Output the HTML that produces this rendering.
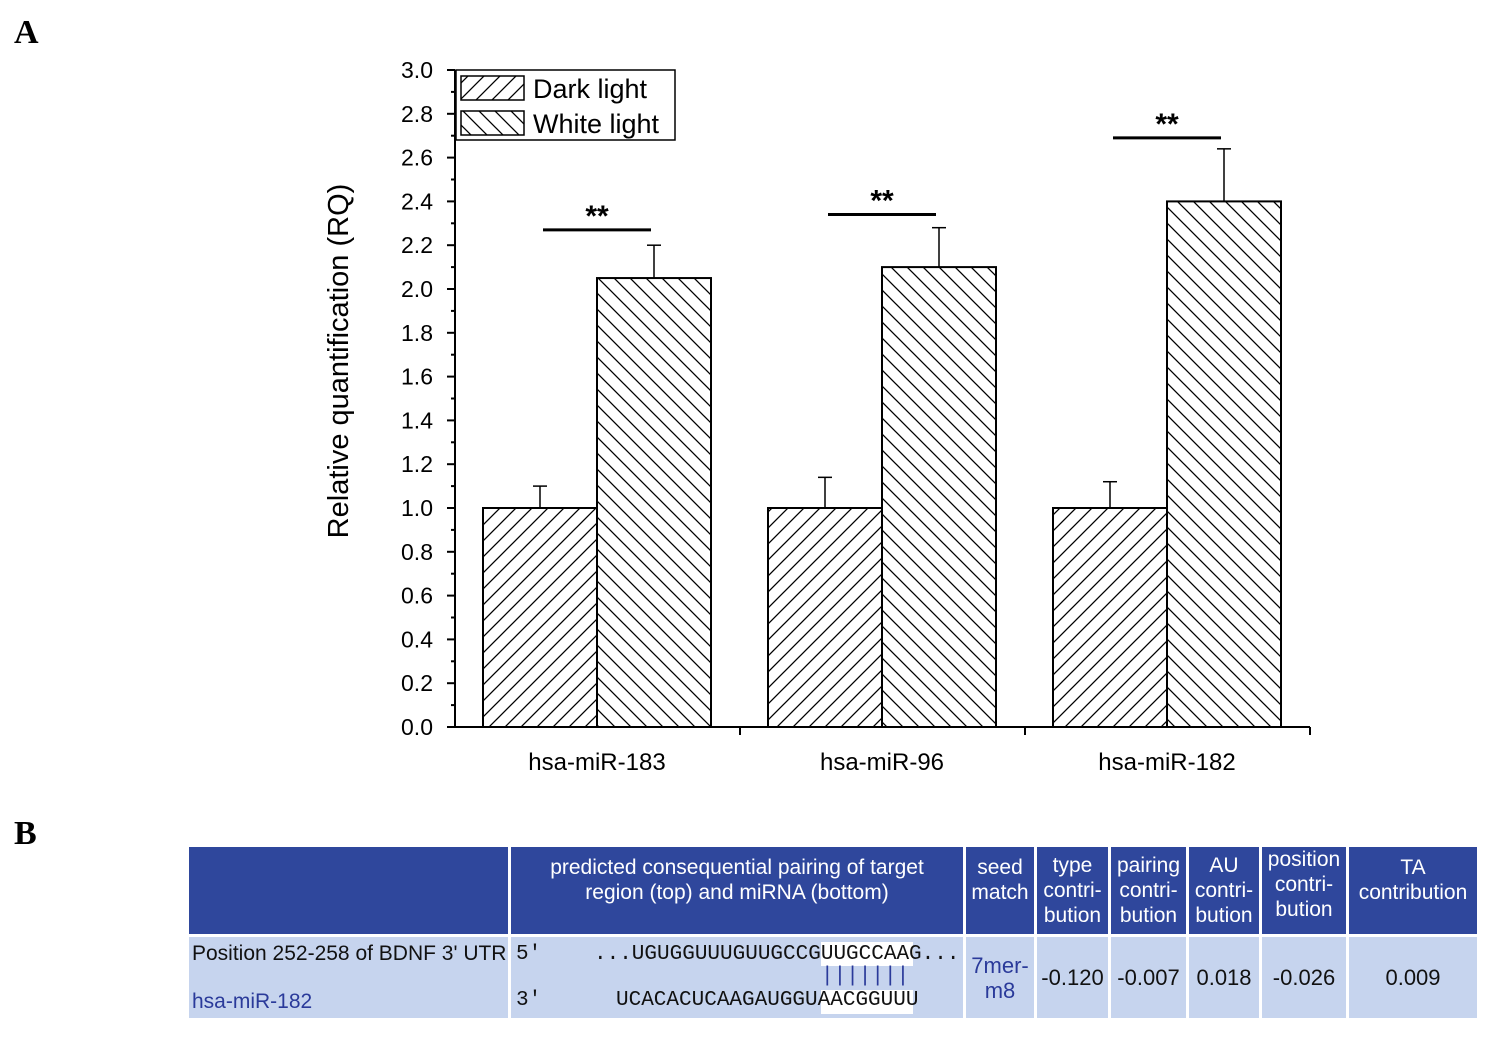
<!DOCTYPE html>
<html><head><meta charset="utf-8">
<style>
body{margin:0;width:1495px;height:1039px;background:#fff;position:relative;overflow:hidden;font-family:"Liberation Sans",sans-serif}
.lbl{position:absolute;font-family:"Liberation Serif",serif;font-weight:bold;font-size:34px}
.c{position:absolute;box-sizing:border-box;display:flex;align-items:center;justify-content:center;text-align:center;line-height:25px}
.h{background:#2f479c;color:#fff;font-size:21px}
.b{background:#c6d4ee;color:#111;font-size:22px}
.mono{font-family:"Liberation Mono",monospace;font-size:21px;position:absolute;white-space:pre;color:#111}
</style></head><body>
<div class="lbl" style="left:14px;top:14px">A</div>
<div class="lbl" style="left:14px;top:815px">B</div>
<svg id="chart" width="1495" height="800" style="position:absolute;left:0;top:0">
<defs>
<pattern id="pd" patternUnits="userSpaceOnUse" width="16" height="16"><path d="M-4,4 L4,-4 M0,16 L16,0 M12,20 L20,12" stroke="#000" stroke-width="1.3"/></pattern>
<pattern id="pw" patternUnits="userSpaceOnUse" width="16" height="16"><path d="M-4,12 L4,20 M0,0 L16,16 M12,-4 L20,4" stroke="#000" stroke-width="1.3"/></pattern>
</defs>
</svg>
<script>
const categories=["hsa-miR-183","hsa-miR-96","hsa-miR-182"];
const darkValues=[1.0,1.0,1.0];
const darkErrors=[0.1,0.14,0.12];
const whiteValues=[2.05,2.1,2.4];
const whiteErrors=[0.15,0.18,0.24];
const sigY=[2.27,2.34,2.69];
const yTicks=[0,0.2,0.4,0.6,0.8,1.0,1.2,1.4,1.6,1.8,2.0,2.2,2.4,2.6,2.8,3.0];
const NS="http://www.w3.org/2000/svg";
const svg=document.getElementById('chart');
const y=v=>727-v*219;
const xc=i=>597+i*285;
const BW=114;
function mk(t,a,txt){const e=document.createElementNS(NS,t);for(const k in a)e.setAttribute(k,a[k]);if(txt!==undefined)e.textContent=txt;svg.appendChild(e);return e;}
let e=mk('line',{x1:455,y1:70,x2:455,y2:728,stroke:'#000','stroke-width':2});

e=mk('line',{x1:454,y1:727,x2:1310,y2:727,stroke:'#000','stroke-width':2});

yTicks.forEach((t,i)=>{
 mk('line',{x1:447,y1:y(t),x2:455,y2:y(t),stroke:'#000','stroke-width':2});
 if(i<yTicks.length-1)mk('line',{x1:451,y1:y(t+0.1),x2:455,y2:y(t+0.1),stroke:'#000','stroke-width':2});
 e=mk('text',{x:433,y:y(t)+8,'text-anchor':'end','font-size':23,'font-family':'Liberation Sans'},t.toFixed(1));
 
});
[740,1025,1310].forEach(x=>mk('line',{x1:x,y1:727,x2:x,y2:735,stroke:'#000','stroke-width':2}));
e=mk('text',{x:348,y:361,'text-anchor':'middle','font-size':29,'font-family':'Liberation Sans',transform:'rotate(-90 348 361)'},'Relative quantification (RQ)');

categories.forEach((c,i)=>{
 const cx=xc(i);
 e=mk('text',{x:cx,y:770,'text-anchor':'middle','font-size':24,'font-family':'Liberation Sans'},c);
 
 [[cx-BW/2,darkValues[i],darkErrors[i]],[cx+BW/2,whiteValues[i],whiteErrors[i]]].forEach(([x,v,er])=>{
  mk('line',{x1:x,y1:y(v),x2:x,y2:y(v+er),stroke:'#000','stroke-width':1.5});
  mk('line',{x1:x-7,y1:y(v+er),x2:x+7,y2:y(v+er),stroke:'#000','stroke-width':1.5});
 });
 e=mk('rect',{x:cx-BW,y:y(darkValues[i]),width:BW,height:y(0)-y(darkValues[i]),fill:'url(#pd)',stroke:'#000','stroke-width':2});
 
 e=mk('rect',{x:cx,y:y(whiteValues[i]),width:BW,height:y(0)-y(whiteValues[i]),fill:'url(#pw)',stroke:'#000','stroke-width':2});
 
 e=mk('line',{x1:cx-54,y1:y(sigY[i]),x2:cx+54,y2:y(sigY[i]),stroke:'#000','stroke-width':3});
 
 e=mk('text',{x:cx,y:y(sigY[i])-4,'text-anchor':'middle','font-size':30,'font-weight':'bold','font-family':'Liberation Sans'},'**');
 
});
e=mk('rect',{x:456,y:70,width:219,height:70,fill:'#fff',stroke:'#000','stroke-width':1.5});

mk('rect',{x:461,y:76,width:63,height:24,fill:'url(#pd)',stroke:'#000','stroke-width':1.5});
mk('rect',{x:461,y:111,width:63,height:24,fill:'url(#pw)',stroke:'#000','stroke-width':1.5});
e=mk('text',{x:533,y:98,'font-size':27,'font-family':'Liberation Sans'},'Dark light');

e=mk('text',{x:533,y:133,'font-size':27,'font-family':'Liberation Sans'},'White light');

</script>
<div>
<div class="c h" style="left:189px;top:847px;width:319px;height:87px"></div>
<div class="c h" style="left:511px;top:847px;width:452px;height:87px;align-items:flex-start;padding-top:8px">predicted consequential pairing of target<br>region (top) and miRNA (bottom)</div>
<div class="c h" style="left:966px;top:847px;width:68px;height:87px;align-items:flex-start;padding-top:8px">seed<br>match</div>
<div class="c h" style="left:1037px;top:847px;width:71px;height:87px">type<br>contri-<br>bution</div>
<div class="c h" style="left:1111px;top:847px;width:75px;height:87px">pairing<br>contri-<br>bution</div>
<div class="c h" style="left:1189px;top:847px;width:70px;height:87px">AU<br>contri-<br>bution</div>
<div class="c h" style="left:1262px;top:847px;width:84px;height:87px;align-items:flex-start;padding-top:0">position<br>contri-<br>bution</div>
<div class="c h" style="left:1349px;top:847px;width:128px;height:87px;align-items:flex-start;padding-top:8px">TA<br>contribution</div>
<div class="c b" style="left:189px;top:937px;width:319px;height:81px"></div>
<div class="c b" style="left:511px;top:937px;width:452px;height:81px"></div>
<div class="c b" style="left:966px;top:937px;width:68px;height:81px;color:#2a3a9a;line-height:25px">7mer-<br>m8</div>
<div class="c b" style="left:1037px;top:937px;width:71px;height:81px">-0.120</div>
<div class="c b" style="left:1111px;top:937px;width:75px;height:81px">-0.007</div>
<div class="c b" style="left:1189px;top:937px;width:70px;height:81px">0.018</div>
<div class="c b" style="left:1262px;top:937px;width:84px;height:81px">-0.026</div>
<div class="c b" style="left:1349px;top:937px;width:128px;height:81px">0.009</div>
<div style="position:absolute;left:192px;top:942px;font-size:21px;color:#111">Position 252-258 of BDNF 3' UTR</div>
<div style="position:absolute;left:192px;top:990px;font-size:21px;color:#2a3a9a">hsa-miR-182</div>
<div style="position:absolute;left:821px;top:942px;width:92px;height:24px;background:#fff"></div>
<div style="position:absolute;left:821px;top:990px;width:92px;height:24px;background:#fff"></div>
<div class="mono" style="left:516px;top:943px">5'</div>
<div class="mono" style="left:516px;top:989px">3'</div>
<div class="mono" style="left:594px;top:943px">...UGUGGUUUGUUGCCGUUGCCAAG...</div>
<div class="mono" style="left:821px;top:965px;color:#2a3a9a">|||||||</div>
<div class="mono" style="left:616px;top:989px">UCACACUCAAGAUGGUAACGGUUU</div>
</div>
</body></html>
